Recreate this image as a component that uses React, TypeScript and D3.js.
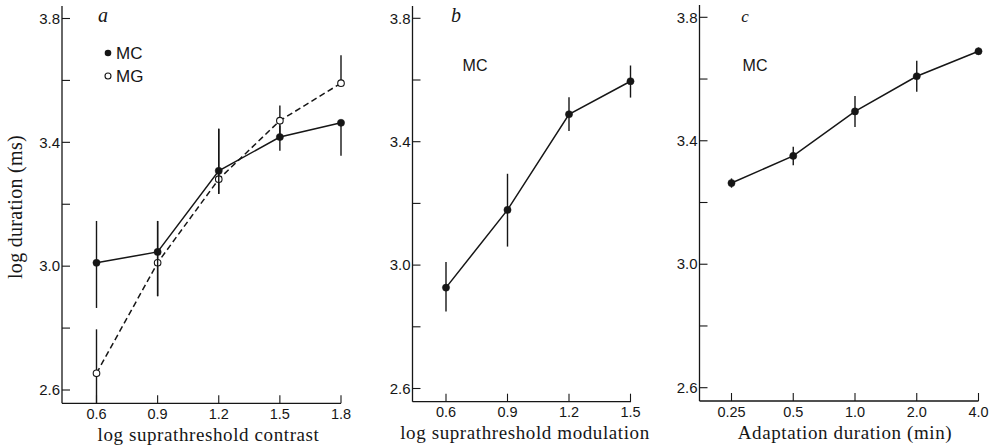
import React from "react";
import * as d3 from "d3";

// Panel a: log suprathreshold contrast
const contrastLevels = [0.6, 0.9, 1.2, 1.5, 1.8];
const mcA = [3.011, 3.046, 3.308, 3.417, 3.463];
const mcALow = [2.865, 2.903, 3.234, 3.373, 3.357];
const mcAHigh = [3.146, 3.146, 3.444, 3.454, 3.463];
const mgA = [2.654, 3.011, 3.281, 3.47, 3.591];
const mgALow = [2.55, 2.903, 3.233, 3.42, 3.591];
const mgAHigh = [2.796, 3.146, 3.444, 3.519, 3.681];

// Panel b: log suprathreshold modulation
const modulationLevels = [0.6, 0.9, 1.2, 1.5];
const mcB = [2.927, 3.179, 3.489, 3.596];
const mcBLow = [2.85, 3.06, 3.435, 3.543];
const mcBHigh = [3.01, 3.296, 3.544, 3.647];

// Panel c: adaptation duration (min)
const adaptDurations = [0.25, 0.5, 1.0, 2.0, 4.0];
const adaptLabels = ["0.25", "0.5", "1.0", "2.0", "4.0"];
const mcC = [3.263, 3.351, 3.495, 3.609, 3.69];
const mcCLow = [3.248, 3.321, 3.445, 3.559, 3.678];
const mcCHigh = [3.278, 3.381, 3.545, 3.659, 3.702];

const yTicksMajor = [2.6, 3.0, 3.4, 3.8];
const yTicksMinor = [2.8, 3.2, 3.6];

const INK = "#161616";
const SANS = "'Liberation Sans', Arial, sans-serif";
const SERIF = "'Liberation Serif', 'Times New Roman', serif";

type Series = {
  vals: number[];
  lo: number[];
  hi: number[];
  open: boolean;
  dashed: boolean;
};

type PanelProps = {
  axisX: number;
  xs: number[];
  xLabels: string[];
  x: (v: number) => number;
  xEnd: number;
  y: d3.ScaleLinear<number, number>;
  baseline: number;
  top: number;
  series: Series[];
  title: string;
  titleX: number;
};

function Panel({ axisX, xs, xLabels, x, xEnd, y, baseline, top, series, title, titleX }: PanelProps) {
  const tick = 8;
  return (
    <g>
      {/* axes */}
      <line x1={axisX} x2={axisX} y1={top} y2={baseline} stroke={INK} strokeWidth={1.3} />
      <line x1={axisX} x2={xEnd} y1={baseline} y2={baseline} stroke={INK} strokeWidth={1.3} />
      {yTicksMajor.concat(yTicksMinor).map((t) => (
        <line key={"yt" + t} x1={axisX} x2={axisX + tick} y1={y(t)} y2={y(t)} stroke={INK} strokeWidth={1.1} />
      ))}
      {yTicksMajor.map((t) => (
        <text key={"yl" + t} x={axisX - 2} y={y(t)} dy="0.35em" textAnchor="end" fontFamily={SANS} fontSize={15} fill={INK}>
          {t.toFixed(1)}
        </text>
      ))}
      {xs.map((v, i) => (
        <g key={"xt" + i}>
          <line x1={x(v)} x2={x(v)} y1={baseline} y2={baseline - tick} stroke={INK} strokeWidth={1.1} />
          <text x={x(v)} y={baseline + 15.5} textAnchor="middle" fontFamily={SANS} fontSize={14.5} fill={INK}>
            {xLabels[i]}
          </text>
        </g>
      ))}
      <text x={titleX} y={baseline + 37.5} textAnchor="middle" fontFamily={SERIF} fontSize={19} letterSpacing={0.6} fill={INK}>
        {title}
      </text>
      {/* data */}
      {series.map((s, si) => {
        const pts = s.vals.map((v, i) => [x(xs[i]), y(v)] as [number, number]);
        const path = d3.line()(pts) || "";
        return (
          <g key={"s" + si}>
            {s.vals.map((v, i) => (
              <line
                key={"e" + i}
                x1={x(xs[i])}
                x2={x(xs[i])}
                y1={Math.min(baseline, y(s.lo[i]))}
                y2={y(s.hi[i])}
                stroke={INK}
                strokeWidth={1.4}
              />
            ))}
            <path d={path} fill="none" stroke={INK} strokeWidth={1.5} strokeDasharray={s.dashed ? "6,3.5" : undefined} />
            {pts.map((p, i) => (
              <circle
                key={"c" + i}
                cx={p[0]}
                cy={p[1]}
                r={s.open ? 3.3 : 3.6}
                fill={s.open ? "#fff" : INK}
                stroke={INK}
                strokeWidth={s.open ? 1.1 : 0.5}
              />
            ))}
          </g>
        );
      })}
    </g>
  );
}

export default function App() {
  const xA = d3.scaleLinear().domain([0.6, 1.8]).range([96.5, 341]);
  const yA = d3.scaleLinear().domain([2.6, 3.8]).range([390, 18.5]);
  const xB = d3.scaleLinear().domain([0.6, 1.5]).range([446, 630.5]);
  const yB = d3.scaleLinear().domain([2.6, 3.8]).range([388.5, 18.3]);
  const xC = d3.scaleLog().base(2).domain([0.25, 4]).range([731.5, 978.5]);
  const yC = d3.scaleLinear().domain([2.6, 3.8]).range([387.7, 17.3]);

  return (
    <svg
      width={990}
      height={446}
      viewBox="0 0 990 446"
      style={{ position: "absolute", left: 0, top: 0, background: "#fff" }}
    >
      <rect x={0} y={0} width={990} height={446} fill="#fff" />
      {/* y-axis title */}
      <text
        transform="translate(22,207) rotate(-90)"
        textAnchor="middle"
        fontFamily={SERIF}
        fontSize={20}
        letterSpacing={0.3}
        fill={INK}
      >
        log duration (ms)
      </text>

      <Panel
        axisX={62}
        xs={contrastLevels}
        xLabels={contrastLevels.map((d) => d.toFixed(1))}
        x={(v) => xA(v)}
        xEnd={341}
        y={yA}
        baseline={403.3}
        top={6}
        series={[
          { vals: mgA, lo: mgALow, hi: mgAHigh, open: true, dashed: true },
          { vals: mcA, lo: mcALow, hi: mcAHigh, open: false, dashed: false },
        ]}
        title="log suprathreshold contrast"
        titleX={208.5}
      />
      <Panel
        axisX={412.5}
        xs={modulationLevels}
        xLabels={modulationLevels.map((d) => d.toFixed(1))}
        x={(v) => xB(v)}
        xEnd={631}
        y={yB}
        baseline={401.7}
        top={6}
        series={[{ vals: mcB, lo: mcBLow, hi: mcBHigh, open: false, dashed: false }]}
        title="log suprathreshold modulation"
        titleX={525}
      />
      <Panel
        axisX={699.5}
        xs={adaptDurations}
        xLabels={adaptLabels}
        x={(v) => xC(v)}
        xEnd={978.5}
        y={yC}
        baseline={401}
        top={5}
        series={[{ vals: mcC, lo: mcCLow, hi: mcCHigh, open: false, dashed: false }]}
        title="Adaptation duration (min)"
        titleX={845}
      />

      {/* panel letters */}
      <text x={103} y={22} fontFamily={SERIF} fontStyle="italic" fontSize={20} fill={INK} textAnchor="middle">a</text>
      <text x={456} y={22} fontFamily={SERIF} fontStyle="italic" fontSize={20} fill={INK} textAnchor="middle">b</text>
      <text x={745} y={22} fontFamily={SERIF} fontStyle="italic" fontSize={17} fill={INK} textAnchor="middle">c</text>

      {/* legend panel a */}
      <circle cx={108} cy={53} r={3.3} fill={INK} />
      <text x={116} y={53} dy="0.36em" fontFamily={SANS} fontSize={17} fill={INK}>MC</text>
      <circle cx={108} cy={76} r={3} fill="#fff" stroke={INK} strokeWidth={1.1} />
      <text x={116} y={76} dy="0.36em" fontFamily={SANS} fontSize={17} fill={INK}>MG</text>

      <text x={475} y={65} dy="0.36em" textAnchor="middle" fontFamily={SANS} fontSize={16} fill={INK}>MC</text>
      <text x={755} y={65} dy="0.36em" textAnchor="middle" fontFamily={SANS} fontSize={16} fill={INK}>MC</text>
    </svg>
  );
}
